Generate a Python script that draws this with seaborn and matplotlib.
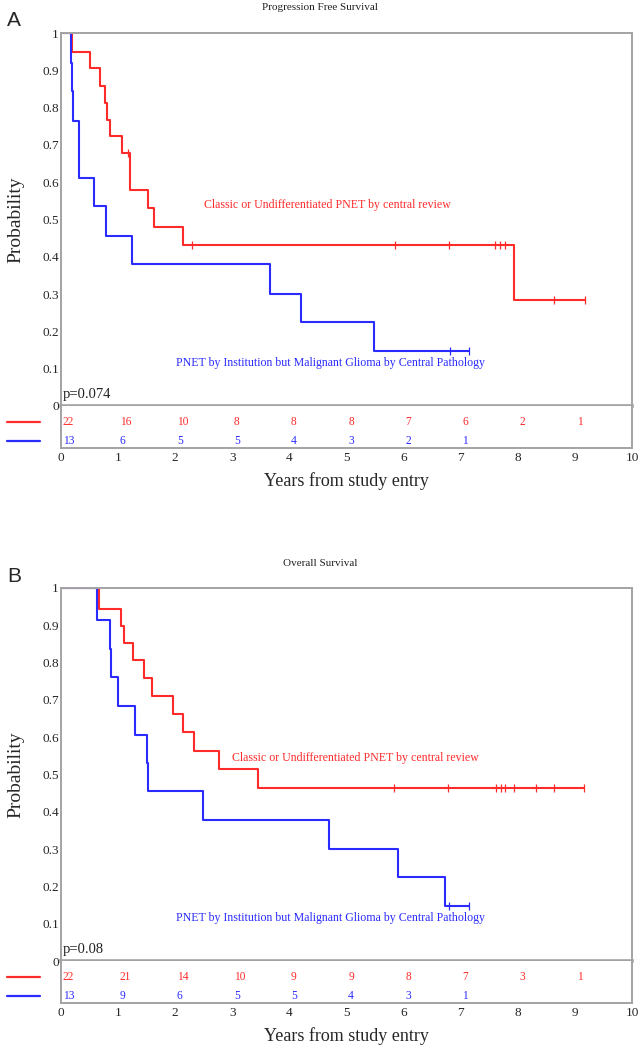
import numpy as np
import matplotlib
matplotlib.use("Agg")
import matplotlib.pyplot as plt
import seaborn as sns

# panel A: progression free survival (step times, survival after each step)
red_a_t = [0, 0.20, 0.50, 0.69, 0.77, 0.80, 0.85, 1.07, 1.20, 1.21, 1.52, 1.62, 2.13, 7.93, 9.17]
red_a_s = [1, 0.95, 0.905, 0.858, 0.812, 0.768, 0.723, 0.678, 0.628, 0.58, 0.53, 0.48, 0.432, 0.285, 0.285]
red_a_cens = [1.18, 2.30, 5.85, 6.79, 7.60, 7.69, 7.78, 8.64, 9.17]
blue_a_t = [0, 0.17, 0.19, 0.21, 0.32, 0.57, 0.79, 1.24, 3.66, 4.21, 5.49, 7.14]
blue_a_s = [1, 0.92, 0.845, 0.765, 0.612, 0.535, 0.457, 0.38, 0.30, 0.225, 0.148, 0.148]
blue_a_cens = [6.81, 7.14]

# panel B: overall survival
red_b_t = [0, 0.67, 1.05, 1.11, 1.26, 1.46, 1.59, 1.97, 2.13, 2.33, 2.77, 3.45, 9.16]
red_b_s = [1, 0.945, 0.898, 0.853, 0.807, 0.758, 0.71, 0.663, 0.614, 0.563, 0.515, 0.463, 0.463]
red_b_cens = [5.84, 6.78, 7.61, 7.70, 7.77, 7.94, 8.31, 8.64, 9.16]
blue_b_t = [0, 0.63, 0.85, 0.88, 0.99, 1.30, 1.50, 1.52, 2.48, 4.70, 5.91, 6.73, 7.15]
blue_b_s = [1, 0.915, 0.837, 0.762, 0.683, 0.607, 0.53, 0.455, 0.379, 0.30, 0.224, 0.147, 0.147]
blue_b_cens = [6.80, 7.15]

# numbers at risk at years 0, 1, 2, ...
risk_a_red = [22, 16, 10, 8, 8, 8, 7, 6, 2, 1]
risk_a_blue = [13, 6, 5, 5, 4, 3, 2, 1]
risk_b_red = [22, 21, 14, 10, 9, 9, 8, 7, 3, 1]
risk_b_blue = [13, 9, 6, 5, 5, 4, 3, 1]

red_label = "Classic or Undifferentiated PNET by central review"
blue_label = "PNET by Institution but Malignant Glioma by Central Pathology"
x_ticks = list(range(0, 11))
y_ticks = [0, 0.1, 0.2, 0.3, 0.4, 0.5, 0.6, 0.7, 0.8, 0.9, 1]
y_tick_labels = ["0", "0.1", "0.2", "0.3", "0.4", "0.5", "0.6", "0.7", "0.8", "0.9", "1"]

RED = "#ff2b2b"
BLUE = "#2b2bff"
GRAY = "#a3a3a3"

sns.set_theme(style="white")
plt.rcParams["font.family"] = ["Liberation Serif", "DejaVu Serif"]

fig = plt.figure(figsize=(6.4, 10.5), dpi=100)
W, H = 640.0, 1050.0


def box(left, top, right, bottom):
    return [left / W, 1 - bottom / H, (right - left) / W, (bottom - top) / H]


def level_at(t, s, when):
    idx = np.searchsorted(np.asarray(t), np.asarray(when), side="right") - 1
    return np.asarray(s)[idx]


def km_panel(top, letter, title, curves, red_txt, blue_txt, pval, risks):
    bottom = top + 373
    ax = fig.add_axes(box(61, top, 632, bottom))
    tab = fig.add_axes(box(61, bottom, 632, bottom + 42))

    for t, s, cens, col in curves:
        sns.lineplot(x=t, y=s, ax=ax, color=col, lw=1.5, drawstyle="steps-post",
                     estimator=None, sort=False)
        sns.scatterplot(x=cens, y=level_at(t, s, cens), ax=ax, marker="|", s=28,
                        color=col, linewidth=0.9, zorder=3)

    ax.set_xlim(0, 10)
    ax.set_ylim(0, 1)
    ax.set_xticks([])
    ax.set_yticks(y_ticks)
    ax.set_yticklabels(y_tick_labels, fontsize=9.5)
    ax.tick_params(axis="y", length=0, pad=1.5)
    ax.set_ylabel("Probability", fontsize=14, labelpad=13)
    ax.set_xlabel("")
    for side, sp in ax.spines.items():
        sp.set_color(GRAY)
        sp.set_linewidth(1.4)
    ax.spines["bottom"].set_linewidth(2.6)

    ax.text(red_txt[0], red_txt[1], red_label, color=RED, fontsize=8.6, va="center")
    ax.text(blue_txt[0], blue_txt[1], blue_label, color=BLUE, fontsize=8.6, va="center")
    ax.text(0.03, 0.03, pval, fontsize=10.5, va="center", color="#222222")

    tab.set_xlim(0, 10)
    tab.set_ylim(0, 1)
    tab.set_yticks([])
    tab.set_xticks(x_ticks)
    tab.set_xticklabels([str(v) for v in x_ticks], fontsize=9.5)
    tab.tick_params(axis="x", length=0, pad=3)
    for side, sp in tab.spines.items():
        sp.set_color(GRAY)
        sp.set_linewidth(1.4)
    tab.spines["top"].set_visible(False)
    tab.set_xlabel("Years from study entry", fontsize=13, labelpad=6)

    for row, (vals, col) in zip([0.62, 0.17], risks):
        for yr, n in enumerate(vals):
            tab.text(yr + 0.03, row, str(n), color=col, fontsize=8.3, ha="left", va="center")

    # legend strokes left of the table
    for yy, col in [(bottom + 16, RED), (bottom + 35, BLUE)]:
        fig.add_artist(plt.Line2D([7 / W, 40 / W], [1 - yy / H, 1 - yy / H], color=col, lw=1.6))

    fig.text(320 / W, 1 - (top - 25) / H, title, fontsize=8, ha="center", va="center",
             color="#222222")
    fig.text(7 / W, 1 - (top - 12) / H, letter, fontsize=15, ha="left", va="center",
             family=["Liberation Sans", "DejaVu Sans"])


km_panel(33, "A", "Progression Free Survival",
         [(red_a_t, red_a_s, red_a_cens, RED), (blue_a_t, blue_a_s, blue_a_cens, BLUE)],
         (2.5, 0.54), (2.01, 0.114), "p=0.074",
         [(risk_a_red, RED), (risk_a_blue, BLUE)])

km_panel(588, "B", "Overall Survival",
         [(red_b_t, red_b_s, red_b_cens, RED), (blue_b_t, blue_b_s, blue_b_cens, BLUE)],
         (3.0, 0.544), (2.01, 0.114), "p=0.08",
         [(risk_b_red, RED), (risk_b_blue, BLUE)])

fig.savefig("out.png", dpi=100)
